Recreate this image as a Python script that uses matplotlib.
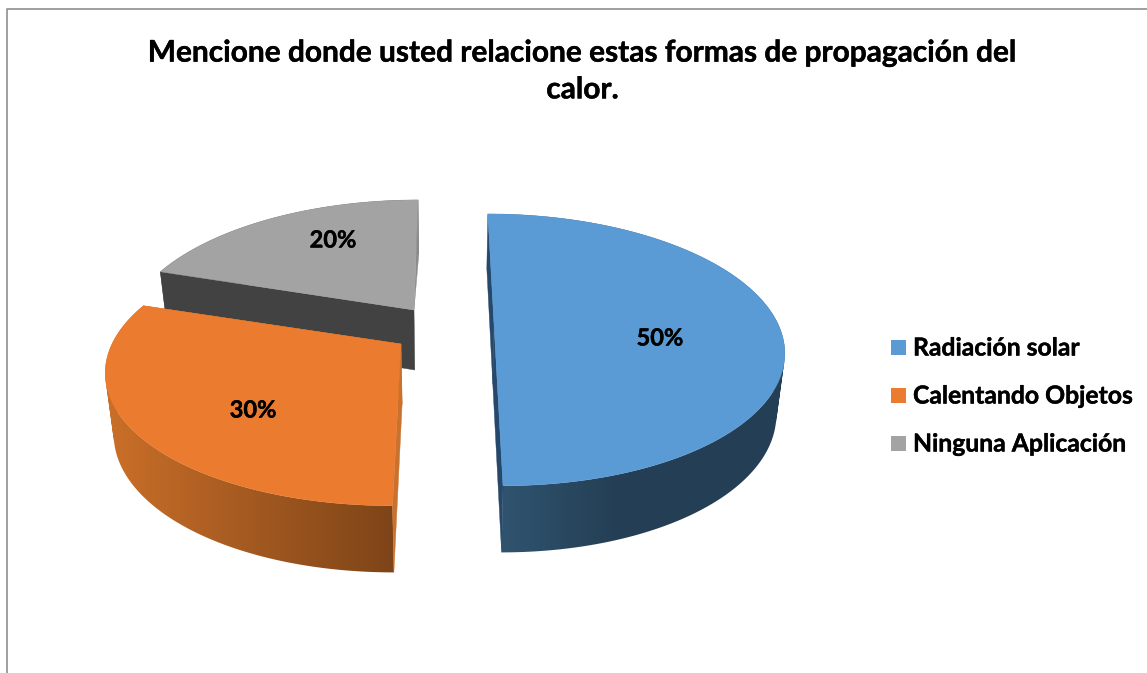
"""Exploded 3D-style pie chart drawn from the survey shares."""
import numpy as np
import matplotlib

matplotlib.use("Agg")
import matplotlib.pyplot as plt
import matplotlib.patheffects as pe
from matplotlib.colors import LinearSegmentedColormap
from matplotlib.patches import PathPatch, Polygon, Rectangle
from matplotlib.path import Path

TITLE = "Mencione donde usted relacione estas formas de propagación del\ncalor."
CATEGORIES = ["Radiación solar", "Calentando Objetos", "Ninguna Aplicación"]
SHARES = [50, 30, 20]

TOP_COLORS = ["#5b9bd5", "#ea7b2f", "#a3a3a3"]
# Cut faces of each slice: first spoke, last spoke
CUT_COLORS = [("#26486a", "#26486a"), ("#c8722d", "#c8722d"), ("#424242", "#8c8c8c")]
WALL_STOPS = [
    [(0.0, "#30546f"), (0.4, "#243f55"), (1.0, "#243f55")],
    [(0.0, "#cc7029"), (1.0, "#7d4418")],
    [(0.0, "#424242"), (1.0, "#424242")],
]
WALL_SPAN = [(500, 790), (100, 396), (150, 425)]

# Slice tips, widths and label anchors on the canvas, in pixels
TIPS = [(494, 324), (401, 344), (414, 310)]
WIDTHS = [284, 289, 284]
LABEL_POS = [(660, 338), (253, 410), (333, 240)]
START_ANGLE = 90

# Projection of the disc plane
RY = 131
PERSP = 0.19
CONVERGE = 0.8
VANISH_X = 446
DEPTH = 60
DEPTH_PERSP = 0.1
DEPTH_SCALE = 0.975

BOLDER = [pe.withStroke(linewidth=0.3, foreground="black")]


def project(tip, rx, theta):
    """Rim or spoke points of a disc placed at tip, looked at in perspective."""
    x, y = np.cos(theta), np.sin(theta)
    w = 1 + PERSP * y
    px = tip[0] + rx * x / w - (tip[0] - VANISH_X) * (1 - 1 / w) * CONVERGE
    py = tip[1] - RY * y / w
    return px, py, y


def lower(px, py, y):
    """Same points moved down to the underside of the disc."""
    return VANISH_X + (px - VANISH_X) * DEPTH_SCALE, py + DEPTH / (1 + DEPTH_PERSP * y)


def wall_path(px, py, lx, ly):
    """Outer wall as one compound path of quads, all wound the same way."""
    parts = []
    for j in range(len(px) - 1):
        quad = np.array([(px[j], py[j]), (px[j + 1], py[j + 1]),
                         (lx[j + 1], ly[j + 1]), (lx[j], ly[j])])
        area = np.sum(quad[:, 0] * np.roll(quad[:, 1], -1) - np.roll(quad[:, 0], -1) * quad[:, 1])
        if area < 0:
            quad = quad[::-1]
        parts.append(Path(np.vstack([quad, quad[0]]), closed=True))
    return Path.make_compound_path(*parts)


def main():
    plt.rcParams["font.family"] = ["Lato", "DejaVu Sans"]
    fig = plt.figure(figsize=(11.47, 6.73), dpi=100)
    ax = fig.add_axes([0, 0, 1, 1])

    ax.plot([6.5, 6.5, 1147], [673, 8.5, 8.5], color="#8f8f8f", lw=1.2, zorder=1)

    # Angles run clockwise from the start angle
    ends = START_ANGLE - np.cumsum(SHARES) * 3.6
    starts = np.r_[START_ANGLE, ends[:-1]]

    # Back slice first, the blue one last
    for z, i in enumerate([2, 1, 0]):
        base = 2 + z * 4
        tip = TIPS[i]
        rx = WIDTHS[i]
        t = np.radians(np.linspace(starts[i], ends[i], 200))
        px, py, y = project(tip, rx, t)
        lx, ly = lower(px, py, y)
        cmap = LinearSegmentedColormap.from_list(f"wall{i}", WALL_STOPS[i])

        # Outer rim with its left to right shading
        clip = PathPatch(wall_path(px, py, lx, ly), fc="none", ec="none", transform=ax.transData)
        ax.add_patch(clip)
        grad = np.linspace(0, 1, 512).reshape(1, -1)
        im = ax.imshow(grad, extent=(WALL_SPAN[i][0], WALL_SPAN[i][1], 673, 0), cmap=cmap,
                       aspect="auto", interpolation="bilinear", vmin=0, vmax=1, zorder=base)
        im.set_clip_path(clip)

        # Straight cut faces; the back slice's far face tapers out at its tip
        for n, (end_t, color) in enumerate(zip((t[0], t[-1]), CUT_COLORS[i])):
            ex, ey, ew = project(tip, rx, end_t)
            tx, ty = lower(np.array([tip[0], ex]), np.array([tip[1], ey]), np.array([0, ew]))
            verts = [tip, (ex, ey), (tx[1], ty[1]), (tx[0], ty[0])]
            if i == 2 and n == 1:
                verts = verts[:3]
            ax.add_patch(Polygon(verts, closed=True, fc=color, ec=color, lw=0.3, zorder=base + 1))

        top = np.vstack([[tip], np.c_[px, py]])
        ax.add_patch(Polygon(top, closed=True, fc=TOP_COLORS[i], ec=TOP_COLORS[i],
                             lw=0.3, zorder=base + 2))

    for value, (lx, ly) in zip(SHARES, LABEL_POS):
        ax.text(lx, ly, f"{value}%", fontsize=17, fontweight="bold", color="black",
                ha="center", va="center", zorder=30, path_effects=BOLDER)

    ax.text(582.5, 71, TITLE, fontsize=21.5, fontweight="bold", color="black",
            ha="center", va="center", linespacing=1.38, zorder=30, path_effects=BOLDER)

    for k, (name, color) in enumerate(zip(CATEGORIES, TOP_COLORS)):
        yc = 348 + 48 * k
        ax.add_patch(Rectangle((891, yc - 8), 15, 15, fc=color, ec="none", zorder=30))
        ax.text(913, yc, name, fontsize=17.8, fontweight="bold", color="black",
                ha="left", va="center", zorder=30, path_effects=BOLDER)

    ax.set_xlim(0, 1147)
    ax.set_ylim(673, 0)
    ax.axis("off")
    fig.savefig("out.png", dpi=100, facecolor="white")


if __name__ == "__main__":
    main()
